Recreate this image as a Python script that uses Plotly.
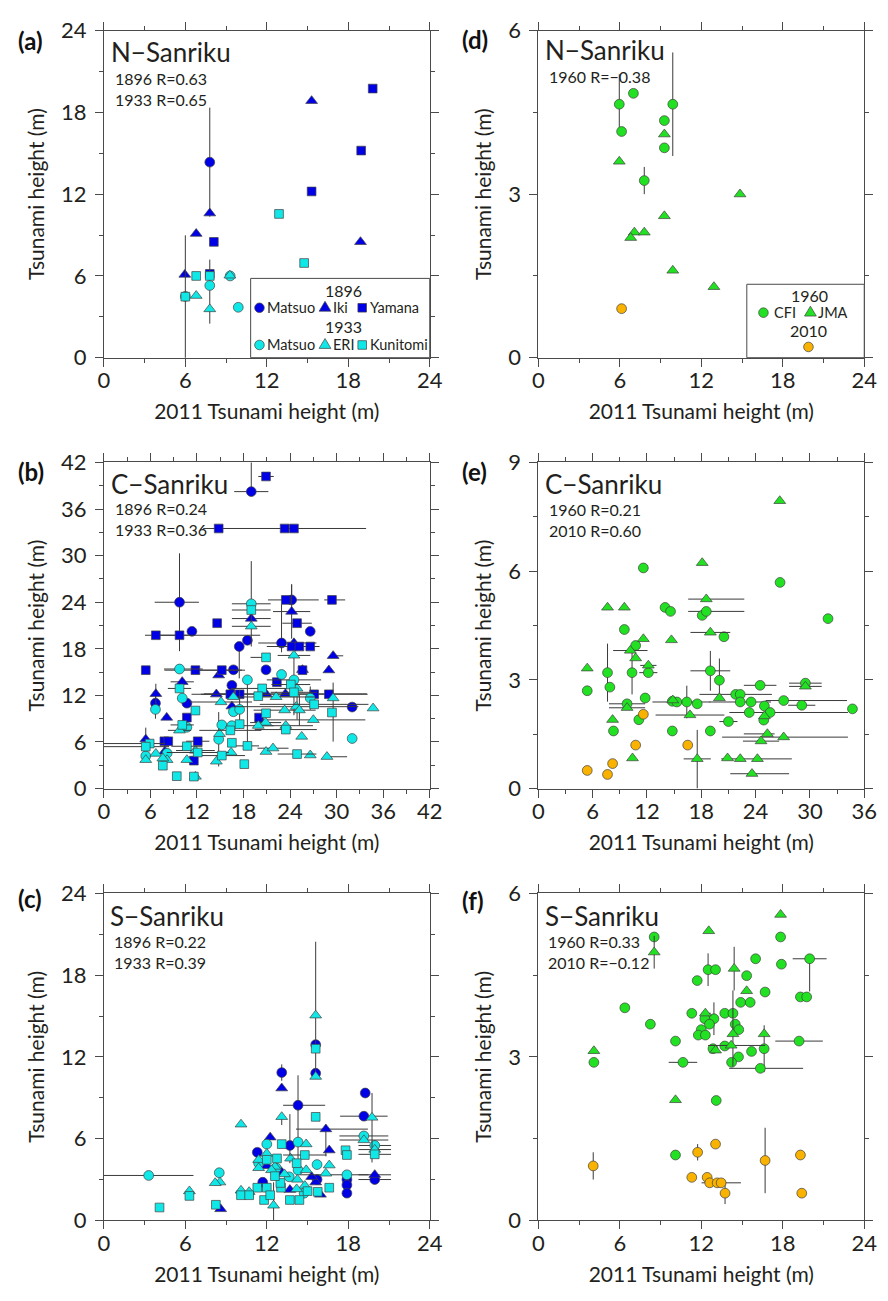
import plotly.graph_objects as go

# ---------------- DATA (x, y, ex_minus, ex_plus, ey_minus, ey_plus) ----------------
# Panel (a) N-Sanriku
A96_MATSUO = [(7.8, 14.35, 0, 0, 4.0, 4.0)]
A96_IKI = [(5.96, 6.1), (6.8, 9.1), (7.8, 10.6), (15.3, 18.85), (18.9, 8.5)]
A96_YAMANA = [(7.8, 6.15), (8.1, 8.5), (15.3, 12.2), (18.95, 15.2), (19.8, 19.75)]
A33_MATSUO = [(6.0, 4.5), (7.8, 5.3, 0, 0, 2.8, 1.9), (9.3, 6.0), (9.9, 3.7)]
A33_ERI = [(6.8, 4.55), (7.8, 3.57), (9.28, 6.04)]
A33_KUNITOMI = [(6.0, 4.48, 0, 0, 4.5, 4.5), (6.8, 6.0), (7.8, 6.0), (12.9, 10.55), (14.75, 6.95)]

# Panel (b) C-Sanriku
B96_MATSUO = [(19.0, 38.25, 2.2, 2.2, 0, 5), (9.75, 24.0, 3.2, 2.5, 6.3, 6.3), (11.35, 20.25),
              (18.5, 19.1), (17.45, 18.3, 0, 0, 4.1, 0), (22.9, 18.75, 3.0, 4.5, 1.2, 5.0),
              (26.6, 20.25), (20.9, 15.3), (16.7, 15.3), (16.5, 13.3), (6.65, 11.0, 0, 0, 1.2, 1.2),
              (10.7, 11.0), (32.0, 10.5), (24.2, 24.3, 0, 3.5, 0, 2.0)]
B96_IKI = [(19.0, 21.9, 2.5, 2.5), (24.2, 22.8, 2.4, 2.4, 3.5, 3.5), (24.5, 18.75, 0, 0, 9.3, 0),
           (29.55, 17.1, 0, 1.3), (29.0, 15.25), (25.6, 15.3), (10.1, 13.75, 1.5, 1.5), (14.8, 14.6),
           (14.5, 12.15, 2.0, 2.0), (6.7, 12.2, 0, 0, 1.3, 1.3), (8.1, 9.15), (5.4, 6.35, 0, 0, 1.8, 1.5),
           (7.86, 4.8), (20.9, 12.2, 8.0, 13.0), (23.4, 12.2), (16.5, 10.6)]
B96_YAMANA = [(20.9, 40.2, 1.0, 1.0), (14.8, 33.5), (23.3, 33.5, 10.5, 10.5), (24.5, 33.5),
              (6.7, 19.75, 1.4, 4.2), (9.75, 19.75, 3.0, 10.4), (14.6, 21.3), (5.4, 15.25),
              (11.8, 15.25, 4.0, 6.0), (15.2, 15.25, 3.0, 3.0), (16.3, 12.15, 5.0, 5.0), (17.5, 12.15),
              (10.7, 9.15), (20.0, 9.15), (22.3, 13.7), (12.1, 6.1, 1.5, 1.5), (7.8, 6.1), (8.3, 6.1),
              (11.6, 3.6), (23.45, 24.3, 2.3, 0), (29.4, 24.3, 1.0, 1.7), (24.9, 21.3, 1.9, 1.9),
              (24.2, 18.3, 3.2, 3.2), (25.2, 18.3), (26.6, 18.3, 0, 1.2), (25.6, 15.25), (27.1, 12.15),
              (29.0, 12.15, 9.0, 5.0)]
B33_MATSUO = [(19.0, 23.8, 2.5, 2.5, 5.5, 5.5), (9.75, 15.4, 2.0, 3.0), (10.1, 11.65),
              (6.65, 10.2, 0, 0, 1.2, 0), (10.7, 7.9), (15.2, 8.2), (18.5, 14.0, 0, 0, 8.8, 0),
              (16.7, 9.9), (17.5, 10.2, 0, 0, 2.5, 2.5), (16.5, 8.1), (14.8, 6.35, 0, 0, 3.5, 3.5),
              (8.15, 4.55), (5.4, 4.2), (22.9, 14.7), (24.5, 14.0, 3.5, 3.5),
              (26.6, 11.65, 0, 0, 1.5, 1.5), (32.0, 6.45)]
B33_ERI = [(19.0, 20.9, 2.5, 2.5), (24.5, 17.15, 2.1, 2.1), (15.1, 11.15, 4.0, 4.0), (9.75, 7.5, 1.5, 1.5),
           (16.7, 11.8), (22.2, 11.8, 5.0, 5.0), (24.9, 12.9, 0, 0, 4.0, 0), (24.8, 10.55, 8.0, 8.0),
           (25.2, 10.1, 0, 0, 2.0, 2.0), (29.55, 11.65, 0, 0, 5.6, 2.0), (34.7, 10.35),
           (23.3, 10.1, 4.0, 4.0), (20.85, 8.5, 2.0, 2.0), (19.9, 8.1, 2.0, 2.0), (27.0, 8.85, 6.7, 6.7),
           (23.45, 8.1, 3.5, 3.5), (25.5, 6.7), (14.9, 7.05), (11.8, 4.9, 2.5, 2.5), (11.8, 1.55),
           (10.7, 3.7), (6.7, 4.5), (5.4, 3.7), (8.15, 3.7), (7.6, 3.9), (14.5, 3.5), (16.4, 4.65),
           (20.9, 4.75), (21.8, 5.2, 2.0, 2.0), (26.6, 4.3), (28.75, 4.1, 0, 2.6)]
B33_KUNITOMI = [(19.0, 23.0, 2.5, 2.5), (20.9, 16.9, 2.0, 0), (9.75, 12.9, 1.5, 1.5), (11.8, 10.05),
                (10.1, 8.2, 1.5, 1.5), (20.4, 12.9, 4.0, 4.0), (19.9, 11.9), (16.3, 7.5, 4.0, 4.0),
                (17.5, 8.3), (16.5, 5.9), (10.7, 5.45, 2.0, 2.0), (12.1, 4.65, 4.0, 4.0),
                (15.2, 4.25, 3.0, 3.0), (5.9, 5.8, 6.5, 2.0), (5.4, 5.4, 5.9, 3.0), (7.6, 2.95),
                (9.4, 1.6), (11.6, 1.55), (18.1, 3.15), (18.5, 5.5, 1.5, 1.5), (24.1, 13.4, 2.5, 2.5),
                (24.5, 12.4, 3.0, 3.0), (27.1, 10.85, 7.0, 7.0), (29.4, 9.8), (23.45, 7.6, 4.0, 4.0),
                (20.9, 9.7), (24.9, 4.45, 2.5, 2.5)]

# Panel (c) S-Sanriku
C96_MATSUO = [(15.6, 12.9), (15.6, 10.8), (13.1, 10.85, 0, 0, 0.6, 0.6), (14.3, 8.45, 1.1, 2.0, 4.0, 2.2),
              (19.25, 9.35), (19.15, 7.65, 1.75, 1.75), (19.95, 3.0, 1.2, 1.2), (17.9, 3.0), (17.9, 2.6),
              (17.9, 2.0), (13.7, 5.5, 0, 0, 1.3, 2.3), (11.3, 5.0), (11.7, 2.8), (12.9, 3.6), (15.7, 3.0)]
C96_IKI = [(13.1, 9.7), (12.25, 6.1), (16.35, 6.7, 2.2, 3.1, 2.0, 0), (16.6, 5.15), (8.6, 0.84),
           (15.95, 1.9), (15.6, 2.8), (15.3, 3.2), (13.7, 2.25), (12.0, 4.0), (19.95, 3.35, 1.2, 1.2)]
C33_MATSUO = [(3.3, 3.3, 3.3, 3.3), (8.5, 3.5), (12.0, 5.6), (11.4, 4.2), (14.3, 5.75), (15.7, 4.1),
              (13.65, 3.2), (14.3, 3.7), (12.7, 3.85), (17.9, 3.35, 3.5, 1.6), (19.15, 6.2, 1.8, 1.8),
              (19.95, 5.5, 1.2, 1.2), (14.75, 2.0)]
C33_ERI = [(15.6, 15.05, 0, 0, 4.5, 5.4), (15.6, 10.55), (13.1, 7.6, 0, 0, 0.6, 0), (10.1, 7.05),
           (19.75, 7.55, 0, 0, 3.3, 1.8), (19.15, 5.9, 1.8, 1.8), (19.95, 5.2, 1.2, 1.2), (14.9, 5.6),
           (13.75, 4.55), (11.4, 4.45), (11.4, 3.85), (12.0, 4.9), (16.6, 4.05), (16.35, 3.45),
           (14.9, 3.7), (14.25, 3.0), (14.8, 2.55), (14.2, 2.3), (8.55, 2.8), (8.2, 2.75), (6.3, 2.15),
           (10.1, 2.2), (10.7, 2.1), (12.5, 1.1, 0, 0, 1.3, 1.7), (12.6, 3.95), (12.35, 3.7), (13.3, 3.4)]
C33_KUNITOMI = [(15.6, 12.6), (15.6, 7.6), (13.1, 5.6), (12.0, 4.45), (17.8, 5.15), (17.9, 4.8),
                (19.95, 4.85, 1.2, 1.2), (14.8, 4.8, 1.6, 1.6), (14.2, 4.2), (11.3, 2.4), (12.0, 2.4),
                (11.8, 1.5), (12.25, 1.85), (13.05, 2.4), (13.0, 2.75), (13.7, 1.5), (14.4, 1.5),
                (15.0, 2.15), (15.75, 2.1), (16.6, 2.4), (4.1, 0.95), (6.3, 1.8), (8.25, 1.15),
                (10.1, 1.85, 0.3, 0.8), (10.7, 1.85), (12.75, 4.55), (12.6, 3.25)]

# Panel (d) N-Sanriku 1960 / 2010
D60_CFI = [(5.96, 4.65, 0, 0, 0.5, 0.55), (7.0, 4.85), (6.13, 4.15), (9.9, 4.65, 0, 0, 0.95, 0.95),
           (9.28, 4.35), (9.28, 3.85), (7.8, 3.25, 0, 0, 0.25, 0.25)]
D60_JMA = [(5.96, 3.6), (9.28, 4.1), (14.85, 3.0), (9.28, 2.6), (7.07, 2.3), (6.8, 2.2), (7.8, 2.3),
           (9.9, 1.6), (12.93, 1.3)]
D10 = [(6.13, 0.9)]

# Panel (e) C-Sanriku 1960 / 2010
E60_CFI = [(11.6, 6.09), (26.7, 5.69), (14.0, 5.0), (14.6, 4.89), (18.1, 4.78), (18.55, 4.89, 2.0, 4.2),
           (32.0, 4.69), (9.5, 4.39), (20.5, 4.19), (10.75, 3.95), (7.64, 3.2, 0, 0, 0.8, 0.8),
           (10.35, 3.2, 0, 0, 0.6, 0.6), (12.15, 3.2, 1.0, 1.0), (19.0, 3.25, 2.2, 2.2, 0.55, 0.55),
           (20.0, 2.99, 0, 0, 0.5, 0.6), (7.9, 2.8), (5.4, 2.7), (24.5, 2.85, 1.8, 1.8),
           (29.5, 2.91, 1.8, 1.8), (11.8, 2.5), (9.8, 2.34, 2.0, 2.0), (14.8, 2.41),
           (15.3, 2.39, 2.7, 3.7), (16.4, 2.39, 0, 0, 0.45, 0.45), (17.55, 2.34), (21.8, 2.6, 4.0, 4.0),
           (22.3, 2.6), (22.3, 2.39, 3.4, 3.4), (23.5, 2.39), (24.97, 2.28), (27.1, 2.43, 2.0, 7.0),
           (29.1, 2.3, 1.5, 1.5), (34.7, 2.2), (23.3, 2.1), (25.6, 2.1, 4.5, 8.6), (24.9, 1.89),
           (21.0, 1.85, 1.0, 1.0), (11.1, 1.9), (8.3, 1.59), (14.8, 1.59), (19.0, 1.59)]
E60_JMA = [(26.67, 7.94), (18.1, 6.23), (18.55, 5.23, 2.0, 4.2), (7.64, 5.0), (9.5, 5.0),
           (19.0, 4.31, 2.2, 2.2), (11.6, 4.13), (14.7, 4.1), (10.16, 3.81, 1.9, 1.9), (10.75, 3.6),
           (12.15, 3.4, 0.9, 0.9), (5.4, 3.32), (29.5, 2.82, 1.8, 1.8), (20.0, 2.5), (14.85, 2.44),
           (9.8, 2.23, 2.0, 2.0), (16.75, 2.03, 3.8, 3.8), (8.2, 1.9), (24.97, 2.0),
           (25.3, 1.51, 2.6, 0.8), (24.6, 1.31, 2.0, 2.0), (27.1, 1.42, 6.8, 7.1), (10.4, 0.84),
           (17.55, 0.82, 1.5, 1.5, 0.82, 0.8), (20.9, 0.84), (22.3, 0.82), (24.2, 0.82, 4.0, 3.8),
           (23.6, 0.41, 2.4, 4.1)]
E10 = [(5.4, 0.5), (7.64, 0.39), (8.2, 0.69), (10.75, 1.2), (11.6, 2.05), (16.5, 1.2)]

# Panel (f) S-Sanriku 1960 / 2010
F60_CFI = [(8.53, 5.2), (17.84, 5.2), (17.9, 4.7), (19.98, 4.8, 1.25, 1.25, 0.6, 0), (16.0, 4.8),
           (12.5, 4.6, 0, 0, 0.3, 0.3), (13.05, 4.6), (15.34, 4.49), (11.7, 4.4), (16.7, 4.19),
           (19.3, 4.1), (19.76, 4.1), (14.9, 4.0), (15.6, 4.0), (6.37, 3.9), (11.3, 3.8), (13.73, 3.8),
           (14.33, 3.8), (12.93, 3.7, 0, 0, 0.3, 0.3), (12.26, 3.7), (12.6, 3.6), (14.5, 3.6),
           (14.76, 3.5), (8.25, 3.6), (12.0, 3.5), (11.78, 3.4), (12.3, 3.4), (10.1, 3.29),
           (19.2, 3.29, 1.75, 1.75), (13.73, 3.2), (12.86, 3.15), (16.63, 3.15, 0, 0, 0.43, 0.43),
           (15.7, 3.1), (14.74, 3.0), (4.09, 2.9), (10.65, 2.9, 1.05, 1.05), (14.23, 2.9),
           (16.35, 2.79, 2.3, 3.15), (13.1, 2.2), (10.1, 1.2)]
F60_JMA = [(17.84, 5.61), (12.55, 5.31), (8.53, 4.92, 0, 0, 0.3, 0.3), (14.42, 4.62, 0, 0, 0.4, 0.4),
           (15.34, 4.21), (12.3, 3.8, 0.3, 0.4), (14.33, 3.42, 0, 0, 0.6, 0.8), (16.63, 3.42),
           (14.2, 3.21, 1.7, 2.5), (13.05, 3.12), (4.09, 3.11), (10.1, 2.21)]
F10 = [(4.04, 1.0, 0, 0, 0.25, 0.25), (11.73, 1.25, 0, 0, 0.15, 0.15), (13.05, 1.4), (19.3, 1.2),
       (16.7, 1.1, 0, 0, 0.6, 0.6), (11.3, 0.79), (12.43, 0.79), (12.62, 0.69, 0.6, 2.3), (13.17, 0.69),
       (13.46, 0.69), (13.75, 0.5, 0, 0, 0.2, 0.2), (19.4, 0.5)]

PANEL_LABELS = ["(a)", "(b)", "(c)", "(d)", "(e)", "(f)"]
REGIONS = ["N\u2212Sanriku", "C\u2212Sanriku", "S\u2212Sanriku", "N\u2212Sanriku", "C\u2212Sanriku", "S\u2212Sanriku"]
R_TEXTS = [["1896 R=0.63", "1933 R=0.65"], ["1896 R=0.24", "1933 R=0.36"], ["1896 R=0.22", "1933 R=0.39"],
           ["1960 R=\u22120.38"], ["1960 R=0.21", "2010 R=0.60"], ["1960 R=0.33", "2010 R=\u22120.12"]]
X_TITLE = "2011 Tsunami height (m)"
Y_TITLE = "Tsunami height (m)"

# ---------------- STYLE ----------------
FONT = "Lato"
TXT = "#231f20"
AX = "#4a4a4a"
ERR = "#3a3a3a"
BLUE = "#0000e6"
CYAN = "#10e8e8"
GREEN = "#22e022"
ORANGE = "#f9b200"
OUTL = "#404040"
SYM = {"circle": ("circle", 9.8), "triangle": ("triangle-up", 10.3), "square": ("square", 8.7)}

W, H = 888, 1301


def P(px, py):
    return px / W, 1 - py / H


fig = go.Figure()


def add_series(data, ax, shape, color):
    rows = [tuple(d) + (0,) * (6 - len(d)) for d in data]
    sym, size = SYM[shape]
    fig.add_trace(go.Scatter(
        x=[r[0] for r in rows], y=[r[1] for r in rows], mode="markers",
        xaxis="x" + ax, yaxis="y" + ax, showlegend=False,
        marker=dict(symbol=sym, size=size, color=color, line=dict(color=OUTL, width=0.7)),
        error_x=dict(type="data", symmetric=False, array=[r[3] for r in rows],
                     arrayminus=[r[2] for r in rows], width=0, thickness=1, color=ERR),
        error_y=dict(type="data", symmetric=False, array=[r[5] for r in rows],
                     arrayminus=[r[4] for r in rows], width=0, thickness=1, color=ERR),
    ))


for ax, sets in [("", [A96_MATSUO, A96_IKI, A96_YAMANA, A33_MATSUO, A33_ERI, A33_KUNITOMI]),
                 ("2", [B96_MATSUO, B96_IKI, B96_YAMANA, B33_MATSUO, B33_ERI, B33_KUNITOMI]),
                 ("3", [C96_MATSUO, C96_IKI, [], C33_MATSUO, C33_ERI, C33_KUNITOMI])]:
    for data, shape, color in zip(sets, ["circle", "triangle", "square"] * 2, [BLUE] * 3 + [CYAN] * 3):
        if data:
            add_series(data, ax, shape, color)

for ax, sets in [("4", [D60_CFI, D60_JMA, D10]), ("5", [E60_CFI, E60_JMA, E10]), ("6", [F60_CFI, F60_JMA, F10])]:
    for data, shape, color in zip(sets, ["circle", "triangle", "circle"], [GREEN, GREEN, ORANGE]):
        add_series(data, ax, shape, color)

# ---------------- AXES ----------------
XD = [[100 / W, 433 / W], [544 / W, 877 / W]]
YD = [[1 - 351 / H, 1 - 17 / H], [1 - 791 / H, 1 - 458 / H], [1 - 1232 / H, 1 - 898 / H]]
specs = [  # (col,row, xmax, xdt, ymax, ydt)
    (0, 0, 24, 6, 24, 6), (0, 1, 42, 6, 42, 6), (0, 2, 24, 6, 24, 6),
    (1, 0, 24, 6, 6, 3), (1, 1, 36, 6, 9, 3), (1, 2, 24, 6, 6, 3)]

layout = {}
for i, (c, r, xm, xdt, ym, ydt) in enumerate(specs):
    n = "" if i == 0 else str(i + 1)
    common = dict(showline=True, linecolor=AX, linewidth=1, mirror="allticks", ticks="outside",
                  ticklen=8, tickwidth=1, tickcolor=AX, showgrid=False, zeroline=False,
                  tickfont=dict(size=22, color=TXT, family=FONT), fixedrange=True)
    layout["xaxis" + n] = dict(common, domain=XD[c], range=[0, xm], dtick=xdt, tick0=0,
                               anchor="y" + n, ticklabelstandoff=-5,
                               minor=dict(ticks="outside", ticklen=4, tickwidth=1, tickcolor=AX, dtick=xdt / 2),
                               title=dict(text=X_TITLE, font=dict(size=21, color=TXT, family=FONT), standoff=12))
    layout["yaxis" + n] = dict(common, domain=YD[r], range=[0, ym], dtick=ydt, tick0=0,
                               anchor="x" + n, ticklabelstandoff=4,
                               minor=dict(ticks="outside", ticklen=4, tickwidth=1, tickcolor=AX, dtick=ydt / 2),
                               title=dict(text=Y_TITLE, font=dict(size=21, color=TXT, family=FONT), standoff=10))

# ---------------- ANNOTATIONS ----------------
ann = []
label_pos = [(10, 27), (10, 467), (10, 903), (464, 26), (464, 467), (464, 905)]
region_pos = [(106, 39), (106, 480), (105, 921), (550, 37), (550, 480), (550, 921)]
r_pos = [(110, 77), (110, 516), (109, 958), (554, 64), (554, 517), (553, 958)]
for i in range(6):
    x, y = P(*label_pos[i])
    ann.append(dict(x=x, y=y, xref="paper", yref="paper", text="<b>%s</b>" % PANEL_LABELS[i], showarrow=False,
                    xanchor="left", yanchor="middle", font=dict(size=24, color="#111", family=FONT)))
    x, y = P(*region_pos[i])
    ann.append(dict(x=x, y=y, xref="paper", yref="paper", text=REGIONS[i], showarrow=False,
                    xanchor="left", yanchor="middle", borderpad=0, font=dict(size=26, color=TXT, family=FONT)))
    x, y = P(*r_pos[i])
    ann.append(dict(x=x, y=y, xref="paper", yref="paper", text="<br>".join(R_TEXTS[i]), showarrow=False,
                    xanchor="left", yanchor="middle", align="left", borderpad=0,
                    font=dict(size=16, color=TXT, family=FONT)))

shapes = []


def box(x0, y0, x1, y1):
    a0, b0 = P(x0, y1)
    a1, b1 = P(x1, y0)
    shapes.append(dict(type="rect", xref="paper", yref="paper", x0=a0, y0=b0, x1=a1, y1=b1,
                       line=dict(color=AX, width=1), fillcolor="white"))


def mark(shape, px, py, color):
    xa, ya = P(px, py)
    base = dict(xref="paper", yref="paper", xsizemode="pixel", ysizemode="pixel", xanchor=xa, yanchor=ya,
                fillcolor=color, line=dict(color=OUTL, width=0.7))
    if shape == "circle":
        shapes.append(dict(base, type="circle", x0=-4.8, x1=4.8, y0=-4.8, y1=4.8))
    elif shape == "square":
        shapes.append(dict(base, type="rect", x0=-4.3, x1=4.3, y0=-4.3, y1=4.3))
    else:
        shapes.append(dict(base, type="path", path="M -5.9 -3.4 L 5.9 -3.4 L 0 6.5 Z"))


def text(t, px, py, anchor="left", size=15):
    x, y = P(px, py)
    ann.append(dict(x=x, y=y, xref="paper", yref="paper", text=t, showarrow=False, xanchor=anchor,
                    yanchor="middle", borderpad=0, font=dict(size=size, color=TXT, family=FONT)))


# legend (a)
box(250, 270, 433, 351)
text("1896", 345, 282, "center", 16)
text("1933", 345, 319, "center", 16)
for yy, col, names in [(300, BLUE, ["Matsuo", "Iki", "Yamana"]), (338, CYAN, ["Matsuo", "ERI", "Kunitomi"])]:
    for (mx, tx), shp, nm in zip([(259, 266), (326, 333), (364, 371)], ["circle", "triangle", "square"], names):
        mark(shp, mx, yy, col)
        text(nm, tx, yy, size=14.5)

# legend (d)
box(757, 276, 877, 351)
text("1960", 821, 287, "center", 16)
mark("circle", 774, 305, GREEN)
text("CFI", 784, 305, size=14.5)
mark("triangle", 822, 305, GREEN)
text("JMA", 829, 305, size=14.5)
text("2010", 820, 323, "center", 16)
mark("circle", 820, 340, ORANGE)

fig.update_layout(width=W, height=H, margin=dict(l=0, r=0, t=0, b=0), paper_bgcolor="white",
                  plot_bgcolor="white", showlegend=False, font=dict(family=FONT, color=TXT),
                  annotations=ann, shapes=shapes, **layout)
fig.write_html("out.html", config={"displayModeBar": False},
               post_script="document.body.style.margin='0px';document.body.style.overflow='hidden';")
